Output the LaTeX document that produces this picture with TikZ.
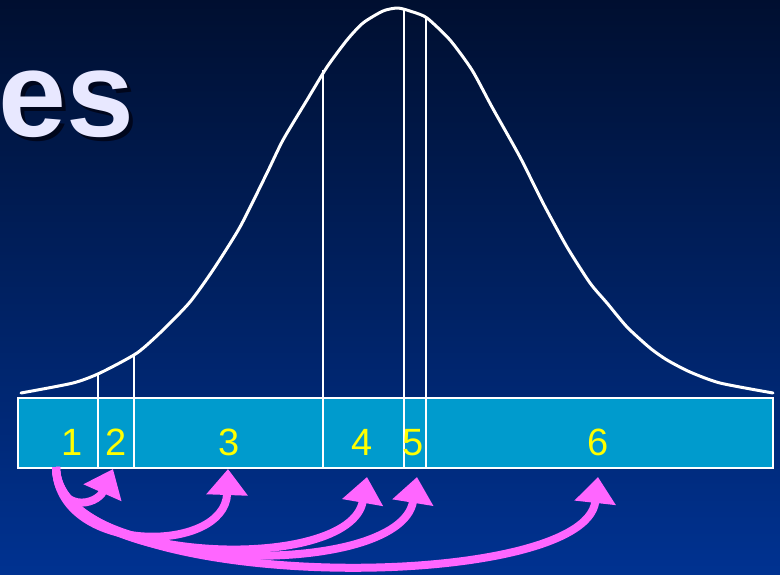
\documentclass[tikz,border=0pt]{standalone}
\usepackage{fontspec}
\setmainfont{Liberation Sans}
\usetikzlibrary{arrows.meta}
\definecolor{bgtop}{RGB}{0,15,48}
\definecolor{bgbot}{RGB}{0,50,145}
\definecolor{cellfill}{RGB}{0,155,205}
\definecolor{arrowmag}{RGB}{255,102,255}
\definecolor{numyel}{RGB}{255,255,0}
\definecolor{titlelav}{RGB}{232,232,255}
\definecolor{shadowc}{RGB}{0,6,28}
\tikzset{
  curveline/.style={draw=white, line width=3pt, line join=round, line cap=round},
  divline/.style={draw=white, line width=2pt},
  boxline/.style={draw=white, line width=2.5pt, fill=cellfill},
  numlabel/.style={text=numyel, font=\fontsize{38}{38}\selectfont, anchor=base, inner sep=0pt},
  jump/.style={draw=arrowmag, line width=8pt, line cap=butt,
    -{Triangle[length=26pt, width=40pt]}, fill=none},
}
\begin{document}
\begin{tikzpicture}[x=1pt, y=-1pt]
  % background
  \shade[top color=bgtop, bottom color=bgbot] (0,0) rectangle (780,574);
  \useasboundingbox (0,0) rectangle (780,574);

  % title fragment
  \node[text=shadowc, font=\bfseries\fontsize{122}{122}\selectfont, anchor=base west, inner sep=0pt] (titleshadow) at (2,140) {es};
  \node[text=titlelav, font=\bfseries\fontsize{122}{122}\selectfont, anchor=base west, inner sep=0pt] (title) at (-2,136) {es};

  % bell curve
  \draw[curveline] plot[smooth, tension=0.4] coordinates {
    (21,393) (73,383) (100,373) (137,353) (163,330) (190,302) (213,270)
    (240,227) (267,173) (283,140) (307,100) (327,67) (347,40) (363,23)
    (383,11) (398,8) (413,12) (427,18) (450,40) (472,70) (492,107)
    (520,157) (543,203) (567,247) (590,283) (607,303) (627,327)
    (650,348) (667,360) (690,372) (720,383) (773,393)};

  % bar
  \draw[boxline] (18,398) rectangle (773,468);

  % dividers (up to the curve)
  \draw[divline] (98,375) -- (98,468);
  \draw[divline] (134,355) -- (134,468);
  \draw[divline] (323,70) -- (323,468);
  \draw[divline] (404,9) -- (404,468);
  \draw[divline] (426,18) -- (426,468);

  % labels
  \node[numlabel] (l1) at (72,455) {1};
  \node[numlabel] (l2) at (116,455) {2};
  \node[numlabel] (l3) at (229,455) {3};
  \node[numlabel] (l4) at (362,455) {4};
  \node[numlabel] (l5) at (413,455) {5};
  \node[numlabel] (l6) at (598,455) {6};

  % arrows
  \coordinate (s) at (56,467);
  \coordinate (t2) at (113,469);
  \coordinate (t3) at (228,469);
  \coordinate (t4) at (367,477);
  \coordinate (t5) at (417,477);
  \coordinate (t6) at (598,477);
  \draw[jump] (s) .. controls (57,575) and (400,582) .. (t5);
  \draw[jump] (s) .. controls (57,595) and (585,595) .. (t6);
  \draw[jump] (s) .. controls (57,565) and (350,575) .. (t4);
  \draw[jump] (s) .. controls (57,555) and (225,555) .. (t3);
  \draw[jump] (s) .. controls (57,515) and (97,505) .. (t2);
\end{tikzpicture}
\end{document}
